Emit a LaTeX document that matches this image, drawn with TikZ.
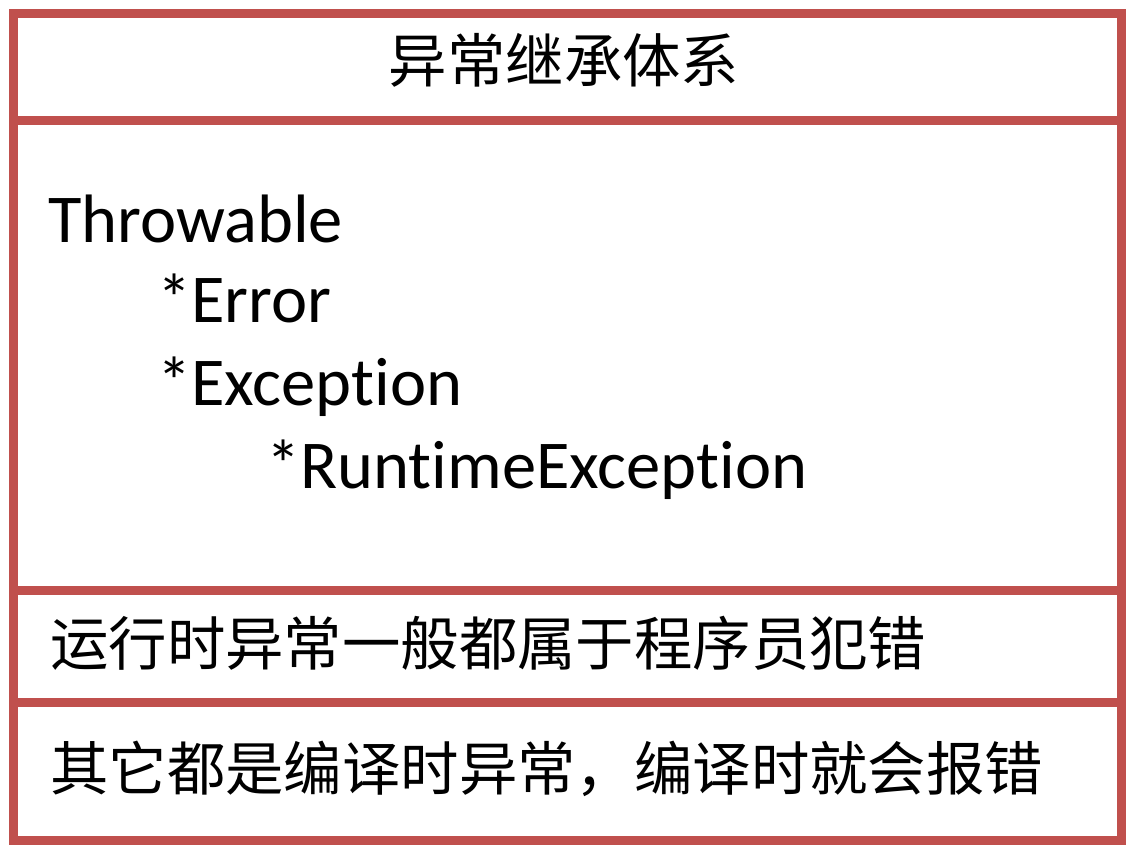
\documentclass[tikz,border=0pt]{standalone}
\usepackage{fontspec}
\setmainfont[Ligatures=NoCommon]{Carlito}
\newfontfamily\cjk{Noto Sans CJK SC}
\definecolor{frame}{HTML}{C0504D}
\begin{document}
\begin{tikzpicture}[x=1pt,y=-1pt,
  box/.style={draw=frame,line width=9pt},
  cjktext/.style={inner sep=0pt,font=\cjk\fontsize{58.4}{70}\selectfont},
  latintext/.style={inner sep=0pt,anchor=base west,font=\fontsize{68.5}{80}\selectfont}]
\useasboundingbox[fill=white] (0,0) rectangle (1131,853);
\draw[box] (13.5,13.5) rectangle (1121,840);
\draw[box] (13.5,121) -- (1121,121);
\draw[box] (13.5,590) -- (1121,590);
\draw[box] (13.5,702) -- (1121,702);
\node[cjktext,anchor=base] (title) at (564,83) {异常继承体系};
\node[latintext] (t) at (48,242) {Throwable};
\node[latintext] (e) at (157,322) {*Error};
\node[latintext] (x) at (157,405) {*Exception};
\node[latintext] (r) at (266,488) {*RuntimeException};
\node[cjktext,anchor=base west] (l1) at (50,665) {运行时异常一般都属于程序员犯错};
\node[cjktext,anchor=base west] (l2) at (50,790) {其它都是编译时异常，编译时就会报错};
\end{tikzpicture}
\end{document}
